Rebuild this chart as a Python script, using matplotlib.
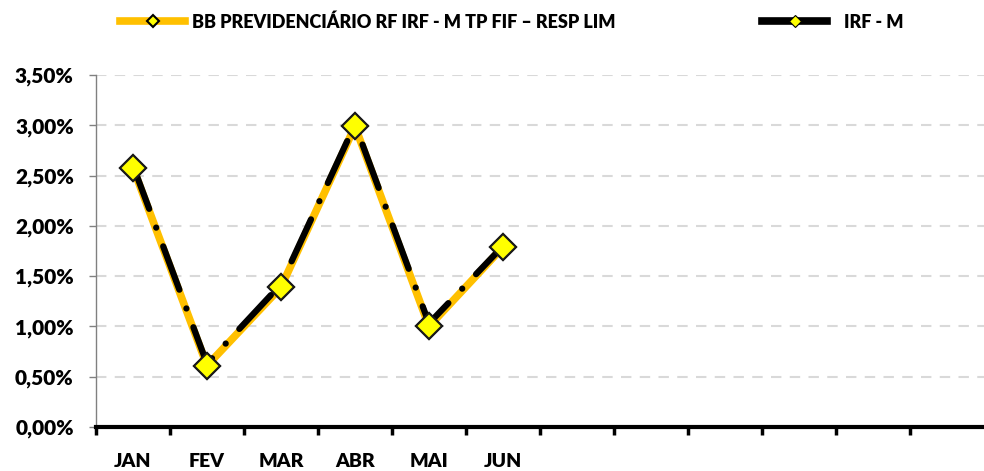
import matplotlib
matplotlib.use('Agg')
import numpy as np
import matplotlib.pyplot as plt
from matplotlib.lines import Line2D
from matplotlib.ticker import FuncFormatter

months = ['JAN', 'FEV', 'MAR', 'ABR', 'MAI', 'JUN', '', '', '', '', '', '']
fund_name = 'BB PREVIDENCIÁRIO RF IRF - M TP FIF – RESP LIM'
bench_name = 'IRF - M'
fund = [2.58, 0.61, 1.39, 2.99, 1.00, 1.79]      # % per month
bench = [2.60, 0.63, 1.42, 3.01, 1.03, 1.80]     # IRF-M, % per month

yellow = '#FFC000'
plt.rcParams['font.family'] = ['Lato', 'DejaVu Sans']
wt = 'heavy'

fig = plt.figure(figsize=(9.84, 4.71), dpi=100)
ax = fig.add_axes([96 / 984, 44 / 471, 888 / 984, 352 / 471])

x = np.arange(len(fund))
ax.plot(x, fund, color=yellow, lw=5.5, solid_joinstyle='round', zorder=3,
        marker='D', markersize=13, markerfacecolor='#FFFF00',
        markeredgecolor='#1a1a1a', markeredgewidth=1.5)
ax.plot(x, bench, color='black', lw=4.5, zorder=4,
        dashes=[7.4, 3.2, 0.01, 3.2], dash_capstyle='round')
# keep the fund diamonds on top of the benchmark line
ax.plot(x, fund, ls='none', zorder=5,
        marker='D', markersize=13, markerfacecolor='#FFFF00',
        markeredgecolor='#1a1a1a', markeredgewidth=1.5)

ax.set_xlim(-0.5, 11.5)
ax.set_ylim(0, 3.5)
ax.set_yticks(np.arange(0, 3.51, 0.5))
ax.yaxis.set_major_formatter(FuncFormatter(lambda v, p: f'{v:.2f}%'.replace('.', ',')))
ax.grid(axis='y', color='#D9D9D9', lw=1.5, dashes=(5, 4))
ax.set_axisbelow(True)

ax.set_xticks(np.arange(-0.5, 11, 1.0))
ax.set_xticklabels([])
ax.set_xticks(np.arange(12), minor=True)
ax.set_xticklabels(months, minor=True)
ax.tick_params(axis='x', which='major', length=6, width=2.5, color='black')
ax.tick_params(axis='x', which='minor', length=0, pad=19, labelsize=14)
ax.tick_params(axis='y', length=5, width=1, color='#808080', labelsize=15, pad=11)
for lab in ax.get_xticklabels(minor=True) + ax.get_yticklabels():
    lab.set_fontweight(wt)

for s in ['top', 'right']:
    ax.spines[s].set_visible(False)
ax.spines['left'].set_color('#808080')
ax.spines['left'].set_linewidth(1)
ax.spines['bottom'].set_color('black')
ax.spines['bottom'].set_linewidth(3)
ax.spines['bottom'].set_zorder(6)

h1 = Line2D([], [], color=yellow, lw=5.5, marker='D', markersize=6,
            markerfacecolor='#FFFF00', markeredgecolor='black', markeredgewidth=1.5)
h2 = Line2D([], [], color='black', lw=5.5, marker='D', markersize=6,
            markerfacecolor='#FFFF00', markeredgecolor='black', markeredgewidth=0.8)
fig.legend([h1], [fund_name], loc='center left', bbox_to_anchor=(104 / 984, 1 - 22 / 471),
           frameon=False, handlelength=3.6, handletextpad=0.4,
           prop={'weight': wt, 'size': 13})
fig.legend([h2], [bench_name], loc='center left', bbox_to_anchor=(746 / 984, 1 - 22 / 471),
           frameon=False, handlelength=3.6, handletextpad=0.9,
           prop={'weight': wt, 'size': 13})

fig.savefig('out.png', dpi=100)
